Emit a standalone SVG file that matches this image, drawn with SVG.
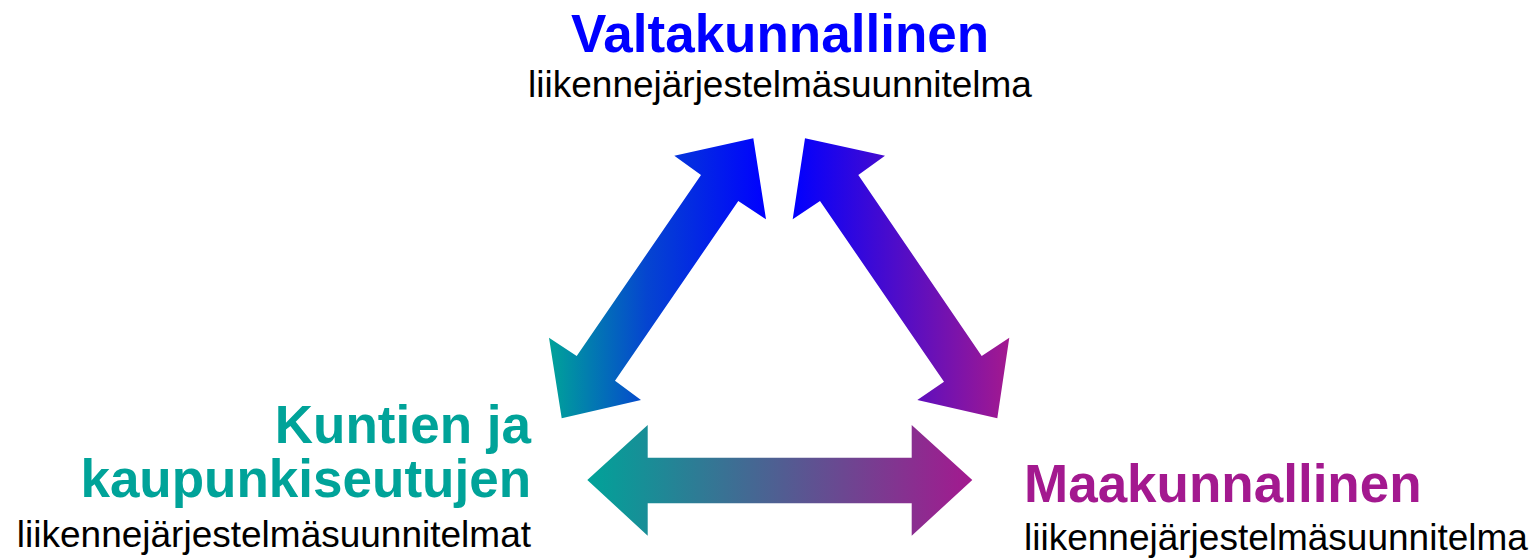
<svg xmlns="http://www.w3.org/2000/svg" width="1538" height="559" viewBox="0 0 1538 559">
<defs>
<linearGradient id="gL" gradientUnits="userSpaceOnUse" x1="549" y1="0" x2="766" y2="0">
<stop offset="0" stop-color="#00A399"/><stop offset="0.45" stop-color="#0545D0"/><stop offset="1" stop-color="#0000FF"/>
</linearGradient>
<linearGradient id="gR" gradientUnits="userSpaceOnUse" x1="792" y1="0" x2="1009" y2="0">
<stop offset="0" stop-color="#0000FF"/><stop offset="1" stop-color="#A3198F"/>
</linearGradient>
<linearGradient id="gH" gradientUnits="userSpaceOnUse" x1="587" y1="0" x2="972" y2="0">
<stop offset="0" stop-color="#00A399"/><stop offset="0.5" stop-color="#505E92"/><stop offset="1" stop-color="#A3198F"/>
</linearGradient>
</defs>
<style>
.b{font-family:"Liberation Sans",Arial,sans-serif;font-weight:bold;font-size:53px}
.r{font-family:"Liberation Sans",Arial,sans-serif;font-size:37px;fill:#000}
</style>
<g id="connectors">
<polygon fill="url(#gL)" points="753.3,138.3 766,219.3 738.3,201 615,380.7 641,400 561.7,418.3 549,337.7 576.7,356 701,175 674.3,155.7"/>
<polygon fill="url(#gR)" points="805,138.3 885,155.7 858.3,175 981.7,356 1009.3,337.7 997.3,418.3 917.3,400 944,381.7 820,201 792.7,219.3"/>
<polygon fill="url(#gH)" points="587.3,480 647.7,425 647.7,457.7 911.7,457.7 911.7,425 972.3,480 911.7,535.7 911.7,503.3 647.7,503.3 647.7,535.7"/>
</g>
<g id="valtakunnallinen">
<text class="b" x="780" y="52" text-anchor="middle" fill="#0000FF">Valtakunnallinen</text>
<text class="r" x="780" y="97" text-anchor="middle">liikennejärjestelmäsuunnitelma</text>
</g>
<g id="kuntien">
<text class="b" x="531" y="443" text-anchor="end" fill="#00A399">Kuntien ja</text>
<text class="b" x="531" y="497" text-anchor="end" fill="#00A399">kaupunkiseutujen</text>
<text class="r" x="531" y="547" text-anchor="end">liikennejärjestelmäsuunnitelmat</text>
</g>
<g id="maakunnallinen">
<text class="b" x="1024" y="502" fill="#A3198F">Maakunnallinen</text>
<text class="r" x="1024" y="550">liikennejärjestelmäsuunnitelma</text>
</g>
</svg>
